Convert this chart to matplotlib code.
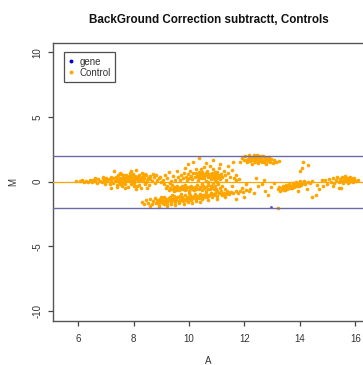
import matplotlib
matplotlib.use("Agg")
import matplotlib.pyplot as plt
from matplotlib.lines import Line2D

plt.rcParams['font.family'] = ['Liberation Sans', 'DejaVu Sans']

# MA values (A = average log intensity, M = log ratio) for the control spots
left_pts = [
    (5.92, 0.05), (6.05, 0.02), (6.12, 0.10), (6.20, -0.02), (6.28, 0.08), (6.35, 0.00),
    (6.42, 0.12), (6.50, -0.05), (6.55, 0.15), (6.62, 0.04), (6.68, -0.10), (6.72, 0.20),
    (6.78, 0.08), (6.85, -0.05), (6.88, 0.25), (6.93, 0.12), (6.98, -0.15), (7.02, 0.30),
    (7.05, 0.05), (7.10, 0.18), (7.13, -0.20), (7.18, 0.40), (7.20, 0.10), (7.24, -0.08),
    (7.27, 0.25), (7.30, 0.80), (7.33, 0.02), (7.36, 0.35), (7.40, -0.25), (7.42, 0.15),
    (7.45, 0.50), (7.48, -0.05), (7.50, 0.28), (7.53, 0.08), (7.56, 0.60), (7.58, -0.30),
    (7.60, 0.20), (7.63, 0.40), (7.66, 0.00), (7.68, 0.32), (7.70, -0.15), (7.73, 0.55),
    (7.75, 0.12), (7.78, 0.25), (7.80, -0.40), (7.82, 0.45), (7.85, 0.05), (7.87, 0.70),
    (7.90, 0.18), (7.92, -0.20), (7.95, 0.35), (7.97, 0.60), (8.00, 0.10), (8.02, -0.10),
    (8.05, 0.42), (8.08, 0.22), (8.10, 0.90), (8.12, -0.30), (8.15, 0.30), (8.18, 0.05),
    (8.20, 0.55), (8.23, 0.15), (8.26, -0.45), (8.30, 0.38), (8.33, 0.08), (8.36, 0.25),
    (8.40, -0.15), (8.44, 0.48), (8.48, 0.12), (8.52, 0.30), (8.56, -0.25), (8.60, 0.20),
    (8.66, 0.05), (8.72, 0.35), (8.78, -0.10), (8.85, 0.15), (8.92, 0.25), (9.00, -0.05),
    (7.35, 0.15), (7.45, 0.05), (7.55, 0.22), (7.65, 0.12), (7.75, 0.30), (7.85, 0.20),
    (7.95, 0.08), (8.05, 0.18), (8.15, 0.12), (8.25, 0.28), (7.62, -0.10), (7.72, 0.02),
    (7.92, 0.45), (8.12, 0.40), (7.40, 0.32), (7.52, -0.15), (8.35, 0.45), (8.45, -0.02),
    (7.20, -0.45), (7.50, 0.70), (7.70, -0.50), (7.90, 0.85), (8.10, -0.55), (8.30, 0.70),
    (8.50, -0.45), (8.70, 0.60), (7.60, 0.50), (8.00, -0.35), (8.40, 0.60), (7.40, -0.40),
    (8.20, -0.25), (8.60, 0.45), (8.80, 0.50), (6.90, 0.40), (6.60, 0.30),
]

low_band_pts = [
    (8.30, -1.55), (8.38, -1.75), (8.45, -1.40), (8.52, -1.62), (8.58, -1.30), (8.65, -1.70),
    (8.70, -1.48), (8.76, -1.25), (8.80, -1.65), (8.85, -1.42), (8.90, -1.78), (8.94, -1.30),
    (8.98, -1.55), (9.02, -1.38), (9.06, -1.62), (9.10, -1.20), (9.14, -1.48), (9.18, -1.32),
    (9.22, -1.70), (9.26, -1.42), (9.30, -1.15), (9.34, -1.55), (9.38, -1.30), (9.42, -1.45),
    (9.46, -1.12), (9.50, -1.60), (9.54, -1.35), (9.58, -1.22), (9.62, -1.50), (9.66, -1.08),
    (9.70, -1.38), (9.74, -1.20), (9.78, -1.52), (9.82, -1.30), (9.86, -1.05), (9.90, -1.40),
    (9.94, -1.18), (9.98, -1.32), (10.02, -1.00), (10.06, -1.45), (10.10, -1.15), (10.15, -1.28),
    (10.20, -0.98), (10.25, -1.35), (10.30, -1.10), (10.35, -1.25), (10.40, -0.92), (10.45, -1.30),
    (10.50, -1.05), (10.55, -1.20), (10.60, -0.88), (10.66, -1.22), (10.72, -1.00), (10.78, -0.85),
    (10.84, -1.18), (10.90, -0.95), (10.96, -0.80), (11.02, -1.10), (11.08, -0.90), (11.14, -0.75),
    (11.20, -1.05), (11.26, -0.85), (11.32, -0.98), (11.38, -0.72), (11.45, -0.92), (11.52, -0.80),
    (11.60, -0.88), (11.68, -0.70), (11.76, -0.85), (11.85, -0.72), (11.95, -0.78), (12.05, -0.68),
    (12.15, -0.75),
    (8.88, -1.55), (8.96, -1.40), (9.04, -1.52), (9.12, -1.35), (9.20, -1.58), (9.28, -1.28),
    (9.36, -1.45), (9.44, -1.25), (9.52, -1.40), (9.60, -1.18), (9.68, -1.45), (9.76, -1.32),
    (9.84, -1.40), (9.92, -1.28), (10.00, -1.15), (10.08, -1.30), (10.18, -1.08), (10.28, -1.22),
    (10.38, -1.05), (10.48, -1.18), (10.58, -1.00), (10.70, -1.12), (10.82, -0.95), (10.95, -1.05),
    (11.10, -0.85), (11.25, -0.95), (11.40, -0.82),
    (8.60, -1.85), (8.90, -1.95), (9.20, -1.88), (9.50, -1.80), (9.80, -1.70), (10.10, -1.62),
    (10.40, -1.55), (10.70, -1.45), (9.00, -1.15), (9.40, -1.00), (9.70, -0.95), (10.00, -0.85),
    (9.35, -1.70), (9.65, -1.62), (9.95, -1.55), (10.25, -1.48), (9.10, -1.75), (11.00, -1.30),
    (11.30, -1.20),
]

mid_pts = [
    (9.15, -0.50), (9.22, -0.35), (9.28, -0.62), (9.33, -0.45), (9.38, -0.28), (9.42, -0.55),
    (9.47, -0.70), (9.50, -0.40), (9.55, -0.52), (9.58, -0.30), (9.62, -0.65), (9.66, -0.45),
    (9.70, -0.55), (9.74, -0.35), (9.78, -0.60), (9.82, -0.48), (9.86, -0.25), (9.90, -0.58),
    (9.94, -0.42), (9.98, -0.70), (10.02, -0.50), (10.06, -0.32), (10.10, -0.55), (10.14, -0.45),
    (10.18, -0.62), (10.22, -0.38), (10.26, -0.50), (10.30, -0.28), (10.35, -0.58), (10.40, -0.42),
    (10.45, -0.65), (10.50, -0.35), (10.55, -0.50), (10.62, -0.40), (10.70, -0.55), (10.78, -0.30),
    (10.86, -0.45), (9.45, -0.42), (9.60, -0.50), (9.72, -0.40), (9.88, -0.50), (10.00, -0.38),
    (10.12, -0.48), (10.25, -0.55), (9.35, -0.58), (9.52, -0.62), (9.84, -0.68),
]

upper_pts = [
    (9.60, 0.35), (9.68, 0.15), (9.72, 0.55), (9.78, 0.25), (9.83, 0.70), (9.88, 0.40),
    (9.92, 0.10), (9.96, 0.60), (10.00, 0.30), (10.04, 0.85), (10.08, 0.45), (10.12, 0.20),
    (10.16, 0.65), (10.20, 0.38), (10.24, 1.00), (10.28, 0.55), (10.32, 0.15), (10.36, 0.75),
    (10.40, 0.42), (10.44, 0.95), (10.48, 0.28), (10.52, 0.62), (10.55, 1.10), (10.58, 0.48),
    (10.62, 0.05), (10.65, 0.80), (10.68, 0.35), (10.72, 0.60), (10.75, 1.25), (10.78, 0.20),
    (10.82, 0.70), (10.85, 0.45), (10.88, 0.95), (10.92, 0.10), (10.95, 0.55), (10.98, 0.30),
    (11.02, 0.75), (11.05, 0.48), (11.08, 1.05), (11.12, 0.22), (11.15, 0.60), (11.20, 0.35),
    (11.25, 0.80), (11.30, 0.50), (11.35, 0.15), (11.40, 0.65), (11.48, 0.40), (11.55, 0.90),
    (11.62, 0.30), (11.70, 0.55), (11.80, 0.20),
    (10.30, 0.45), (10.40, 0.62), (10.50, 0.40), (10.60, 0.65), (10.70, 0.48), (10.80, 0.55),
    (10.90, 0.38), (11.00, 0.52), (11.10, 0.42), (10.35, 0.30), (10.55, 0.25), (10.75, 0.35),
    (10.95, 0.72), (10.45, 0.78), (10.65, 0.58), (10.85, 0.25), (11.05, 0.30), (10.25, 0.70),
    (10.45, -0.15), (10.55, -0.40), (10.62, -0.70), (10.68, -0.25), (10.74, -0.55), (10.80, -0.85),
    (10.85, -0.10), (10.90, -0.60), (10.95, -0.35), (11.00, -0.75), (11.05, -0.20), (11.10, -0.50),
    (11.15, -0.90), (11.20, -0.30), (11.28, -0.60), (10.70, -0.05), (10.88, -0.40), (11.02, -0.05),
    (10.78, -0.32), (10.98, -0.55),
    (9.95, 1.35), (10.15, 1.55), (10.35, 1.80), (10.60, 1.45), (10.85, 1.70), (11.10, 1.35),
    (11.40, 1.20), (9.85, 1.05), (11.60, 1.50),
    (8.95, 0.40), (9.05, 0.10), (9.12, 0.55), (9.20, 0.25), (9.28, 0.75), (9.35, 0.05),
    (9.42, 0.45), (9.50, 0.15), (9.55, 0.85), (9.10, -0.20), (9.30, -0.10),
]

top_pts = [
    (11.85, 1.55), (11.92, 1.80), (11.98, 1.65), (12.03, 1.95), (12.08, 1.50), (12.12, 1.75),
    (12.16, 2.05), (12.20, 1.60), (12.24, 1.85), (12.28, 1.40), (12.32, 1.70), (12.35, 2.10),
    (12.39, 1.55), (12.43, 1.90), (12.46, 1.75), (12.50, 1.45), (12.54, 2.00), (12.57, 1.65),
    (12.60, 1.85), (12.64, 1.50), (12.68, 1.95), (12.72, 1.70), (12.76, 1.40), (12.80, 1.80),
    (12.84, 1.60), (12.88, 1.90), (12.92, 1.55), (12.97, 1.75), (13.02, 1.45), (13.08, 1.65),
    (13.15, 1.55), (13.25, 1.60),
    (12.10, 1.68), (12.22, 1.72), (12.30, 1.88), (12.40, 1.65), (12.48, 1.82), (12.58, 1.75),
    (12.66, 1.62), (12.74, 1.85), (12.82, 1.70), (12.18, 1.92), (12.36, 1.80), (12.52, 1.58),
    (12.70, 1.55), (12.90, 1.68), (12.45, 2.05), (12.62, 2.02),
]

right_pts = [
    (13.20, -0.60), (13.25, -0.40), (13.30, -0.70), (13.34, -0.50), (13.38, -0.30), (13.42, -0.62),
    (13.46, -0.45), (13.50, -0.25), (13.54, -0.55), (13.58, -0.38), (13.62, -0.20), (13.66, -0.48),
    (13.70, -0.30), (13.74, -0.12), (13.78, -0.40), (13.82, -0.22), (13.86, -0.05), (13.90, -0.32),
    (13.95, -0.15), (14.00, 0.02), (14.05, -0.25), (14.10, -0.08), (14.15, 0.08), (14.20, -0.15),
    (14.28, 0.00), (14.35, -0.08), (14.45, 0.05),
    (13.40, -0.48), (13.52, -0.40), (13.64, -0.32), (13.76, -0.25), (13.88, -0.18), (14.00, -0.10),
    (13.35, -0.58), (13.60, -0.45), (13.84, -0.35), (13.48, -0.62), (13.72, -0.50), (13.96, -0.35),
]

far_right_pts = [
    (14.90, 0.10), (14.98, -0.15), (15.05, 0.20), (15.12, 0.00), (15.18, 0.30), (15.24, -0.10),
    (15.30, 0.15), (15.35, 0.40), (15.40, -0.05), (15.44, 0.22), (15.48, 0.05), (15.52, 0.35),
    (15.56, -0.12), (15.60, 0.18), (15.63, 0.45), (15.66, 0.02), (15.70, 0.28), (15.73, -0.08),
    (15.76, 0.15), (15.80, 0.38), (15.83, 0.05), (15.86, 0.22), (15.90, -0.05), (15.93, 0.12),
    (15.97, 0.28), (16.02, 0.05), (16.08, 0.15),
    (15.58, 0.08), (15.68, 0.12), (15.78, 0.00), (15.88, 0.10), (15.74, 0.25), (15.62, 0.30),
    (15.84, 0.30),
]

scattered_pts = [
    (11.55, -0.30), (11.70, 0.10), (11.90, -0.45), (12.05, -0.20), (12.20, -0.60), (12.35, -0.90),
    (12.50, -0.35), (12.62, -0.15), (12.75, -0.70), (12.85, -1.05), (12.95, -0.40), (13.05, -0.10),
    (12.40, 0.30), (12.70, 0.15), (14.00, 0.80), (14.08, 1.05), (14.30, 1.30), (14.12, 1.50),
    (14.45, -1.20), (14.58, -1.05), (14.60, -0.25), (14.80, 0.10), (14.70, -0.55), (15.40, -0.45),
    (15.50, -0.52), (15.20, -0.30), (13.20, -2.05), (13.95, -0.75), (14.25, -0.55), (14.85, -0.30),
    (11.70, -1.30), (12.00, -1.15),
]

gene_pts = [(12.95, -1.98)]

cutoffs = [-2, 2]
x_ticks = [6, 8, 10, 12, 14, 16]
y_ticks = [-10, -5, 0, 5, 10]

control = (left_pts + low_band_pts + mid_pts + upper_pts + top_pts
           + right_pts + far_right_pts + scattered_pts)
ctrl_A = [p[0] for p in control]
ctrl_M = [p[1] for p in control]
gene_A = [p[0] for p in gene_pts]
gene_M = [p[1] for p in gene_pts]

W, H = 363, 365
fig = plt.figure(figsize=(W / 100, H / 100), dpi=100)
ax = fig.add_axes([53.3 / W, (H - 320.7) / H, (363.6 - 53.3) / W, (320.7 - 42.7) / H])

ax.plot(gene_A, gene_M, 'o', color='#5050b0', markersize=2.0, markeredgewidth=0, zorder=2)
ax.plot(ctrl_A, ctrl_M, 'o', color='#FFA500', markersize=2.6, markeredgewidth=0, zorder=3)
ax.axhline(0, color='#FFA500', lw=0.9, zorder=4)
for c in cutoffs:
    ax.axhline(c, color='#6b6ba8', lw=1.0, zorder=4)

ax.set_xlim(5.1, 16.3)
ax.set_ylim(-10.75, 10.75)
ax.set_xticks(x_ticks)
ax.set_yticks(y_ticks)
ax.set_xticklabels([str(t) for t in x_ticks])
ax.set_yticklabels([str(t) for t in y_ticks], rotation=90, va='center')

for s in ax.spines.values():
    s.set_color('#555555')
    s.set_linewidth(1.0)
ax.tick_params(axis='both', length=3.6, width=0.9, color='#444444',
               labelsize=7, labelcolor='#333333')
ax.tick_params(axis='x', pad=6)
ax.tick_params(axis='y', pad=4)

fig.text(208.5 / W, 1 - 20 / H, 'BackGround Correction subtractt, Controls',
         ha='center', va='center', fontsize=8.4, fontweight='bold', color='#111111')
fig.text(208.5 / W, 1 - 361 / H, 'A', ha='center', va='center', fontsize=7, color='#333333')
fig.text(13 / W, 1 - 181.6 / H, 'M', ha='center', va='center', rotation=90,
         fontsize=7, color='#333333')

handles = [
    Line2D([], [], marker='o', ls='', color='#0000cc', markersize=2.8, markeredgewidth=0),
    Line2D([], [], marker='o', ls='', color='#FFA500', markersize=2.8, markeredgewidth=0),
]
leg = ax.legend(handles, ['gene', 'Control'], loc='upper left',
                bbox_to_anchor=(0.035, 0.965), fontsize=7, frameon=True,
                fancybox=False, borderaxespad=0, handlelength=0.6,
                handletextpad=0.5, borderpad=0.45, labelspacing=0.1)
leg.get_frame().set_edgecolor('#222222')
leg.get_frame().set_linewidth(0.9)
for t in leg.get_texts():
    t.set_color('#333333')

fig.savefig('out.png', dpi=100)
